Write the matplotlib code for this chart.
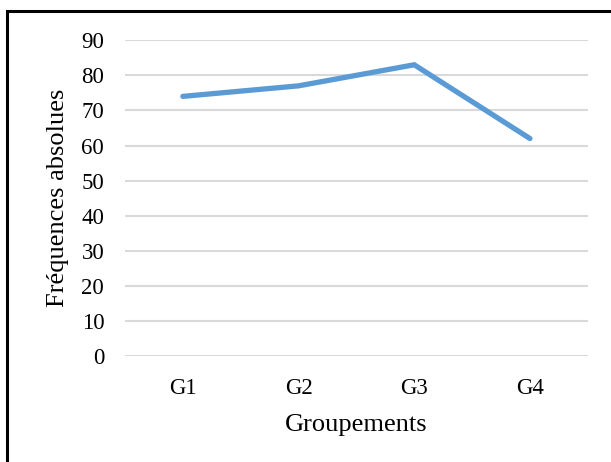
import matplotlib
matplotlib.use("Agg")
import matplotlib.pyplot as plt
from matplotlib.patches import Rectangle

groups = ["G1", "G2", "G3", "G4"]
frequencies = [74, 77, 83, 62]
y_ticks = [0, 10, 20, 30, 40, 50, 60, 70, 80, 90]

plt.rcParams["font.family"] = ["Liberation Serif", "DejaVu Serif"]

fig = plt.figure(figsize=(6.11, 4.62), dpi=100)
ax = fig.add_axes([0.2046, 0.229, 0.962 - 0.2046, 0.913 - 0.229])

x = range(len(groups))
ax.plot(x, frequencies, color="#5B9BD5", linewidth=3.8, solid_capstyle="round",
        solid_joinstyle="miter", zorder=3)

ax.set_xlim(-0.5, len(groups) - 0.5)
ax.set_ylim(0, 90)
ax.set_yticks(y_ticks)
ax.set_xticks(list(x))
ax.set_xticklabels(groups)
ax.yaxis.grid(True, color="#D9D9D9", linewidth=1.5)
ax.set_axisbelow(True)
for side in ["top", "right", "left", "bottom"]:
    ax.spines[side].set_visible(False)
ax.tick_params(axis="both", length=0, labelsize=16.5, colors="black")
ax.tick_params(axis="y", pad=15)
ax.tick_params(axis="x", pad=16)

ax.set_xlabel("Groupements", fontsize=19, labelpad=10.5)
ax.set_ylabel("Fréquences absolues", fontsize=19, labelpad=9)

# Frame around the chart
fig.patches.append(Rectangle((7 / 611, -0.1), 1.2, 1 - 11 / 462 + 0.1,
                             transform=fig.transFigure, fill=False,
                             edgecolor="black", linewidth=2.2))

fig.savefig("out.png", dpi=100)
